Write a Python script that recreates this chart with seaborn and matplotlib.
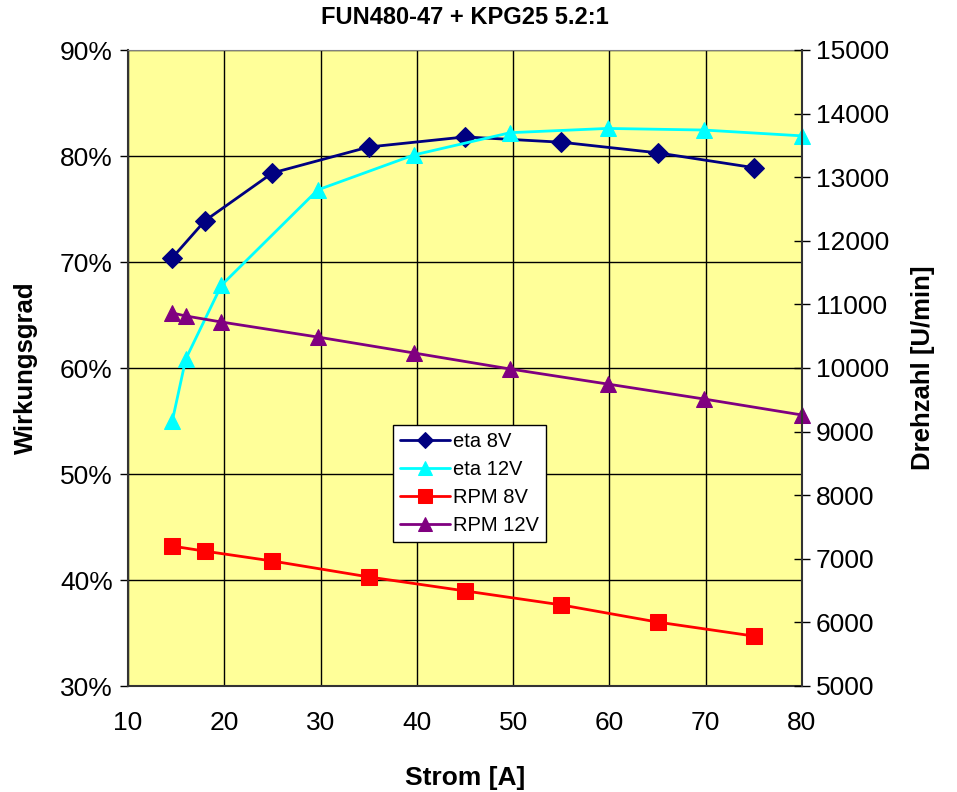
import matplotlib
matplotlib.use("Agg")
import matplotlib.pyplot as plt
import seaborn as sns
import pandas as pd
from matplotlib.ticker import FuncFormatter, MultipleLocator

# ---- data ----
x_eta8 = [14.6, 18, 25, 35, 45, 55, 65, 75]
eta8 = [70.4, 73.9, 78.4, 80.85, 81.8, 81.3, 80.3, 78.9]

x_eta12 = [14.6, 16, 19.7, 29.7, 39.7, 49.7, 59.8, 69.8, 80]
eta12 = [55.0, 60.85, 67.8, 76.8, 80.1, 82.2, 82.6, 82.45, 81.9]

x_rpm8 = [14.6, 18, 25, 35, 45, 55, 65, 75]
rpm8 = [7200, 7120, 6965, 6715, 6495, 6275, 6005, 5785]

x_rpm12 = [14.6, 16, 19.7, 29.7, 39.7, 49.7, 59.8, 69.8, 80]
rpm12 = [10865, 10818, 10723, 10487, 10236, 9984, 9748, 9513, 9261]

title = "FUN480-47 + KPG25 5.2:1"
xlabel = "Strom [A]"
ylabel_left = "Wirkungsgrad"
ylabel_right = "Drehzahl [U/min]"

sns.set_style("white")
plt.rcParams['font.family'] = ['Liberation Sans', 'DejaVu Sans']
plt.rcParams['text.color'] = 'black'
plt.rcParams['axes.labelcolor'] = 'black'
plt.rcParams['xtick.color'] = 'black'
plt.rcParams['ytick.color'] = 'black'

fig = plt.figure(figsize=(9.57, 7.92), dpi=100)
ax = fig.add_axes([128/957, 1-686/792, (802-128)/957, (686-50)/792])
ax2 = ax.twinx()

ax.set_facecolor("#FFFF99")

df8 = pd.DataFrame({"x": x_eta8, "y": eta8})
df12 = pd.DataFrame({"x": x_eta12, "y": eta12})
dr8 = pd.DataFrame({"x": x_rpm8, "y": rpm8})
dr12 = pd.DataFrame({"x": x_rpm12, "y": rpm12})

sns.lineplot(data=df8, x="x", y="y", ax=ax, color="#000080", marker="D",
             markersize=10, markeredgecolor="#000080", linewidth=2, label="eta 8V", legend=False)
sns.lineplot(data=df12, x="x", y="y", ax=ax, color="#00FFFF", marker="^",
             markersize=12, markeredgecolor="#00FFFF", linewidth=2, label="eta 12V", legend=False)
sns.lineplot(data=dr8, x="x", y="y", ax=ax2, color="#FF0000", marker="s",
             markersize=12, markeredgecolor="#FF0000", linewidth=2, label="RPM 8V", legend=False)
sns.lineplot(data=dr12, x="x", y="y", ax=ax2, color="#800080", marker="^",
             markersize=12, markeredgecolor="#800080", linewidth=2, label="RPM 12V", legend=False)

for a in (ax, ax2):
    for l in a.lines:
        l.set_clip_on(False)

ax.set_xlim(10, 80)
ax.set_ylim(30, 90)
ax2.set_ylim(5000, 15000)
ax.xaxis.set_major_locator(MultipleLocator(10))
ax.yaxis.set_major_locator(MultipleLocator(10))
ax2.yaxis.set_major_locator(MultipleLocator(1000))
ax.yaxis.set_major_formatter(FuncFormatter(lambda v, p: f"{v:.0f}%"))

ax.grid(True, color="black", linewidth=1)
ax.set_axisbelow(True)

ax.tick_params(axis="both", direction="out", length=6, width=1, labelsize=19, colors="black", pad=5)
ax.tick_params(axis="x", pad=12)
ax2.tick_params(axis="y", direction="inout", length=12, width=1, labelsize=19, colors="black", pad=4)

for s in ["left", "bottom"]:
    ax.spines[s].set_color("#333333")
    ax.spines[s].set_linewidth(1.5)
ax.spines["top"].set_color("#808080")
ax.spines["right"].set_visible(False)
for s in ["left", "bottom", "top"]:
    ax2.spines[s].set_visible(False)
ax2.spines["right"].set_color("#333333")
ax2.spines["right"].set_linewidth(1.5)

ax.set_xlabel(xlabel, fontsize=19, fontweight="bold", labelpad=22)
ax.set_ylabel(ylabel_left, fontsize=18.5, fontweight="bold", labelpad=16)
ax2.set_ylabel(ylabel_right, fontsize=18.5, fontweight="bold", labelpad=16)
ax.set_title(title, fontsize=17, fontweight="bold", pad=19)

handles = ax.get_lines() + ax2.get_lines()
labels = [h.get_label() for h in handles]
leg = ax2.legend(handles, labels, loc="upper left", bbox_to_anchor=((393-128)/674, (686-425)/636),
                 fontsize=14.5, frameon=True, fancybox=False, edgecolor="black",
                 framealpha=1, borderpad=0.35, labelspacing=0.45, handlelength=2.5,
                 handletextpad=0.15, borderaxespad=0, markerscale=0.85)
leg.get_frame().set_linewidth(1)

fig.savefig("out.png", dpi=100, facecolor="white")
